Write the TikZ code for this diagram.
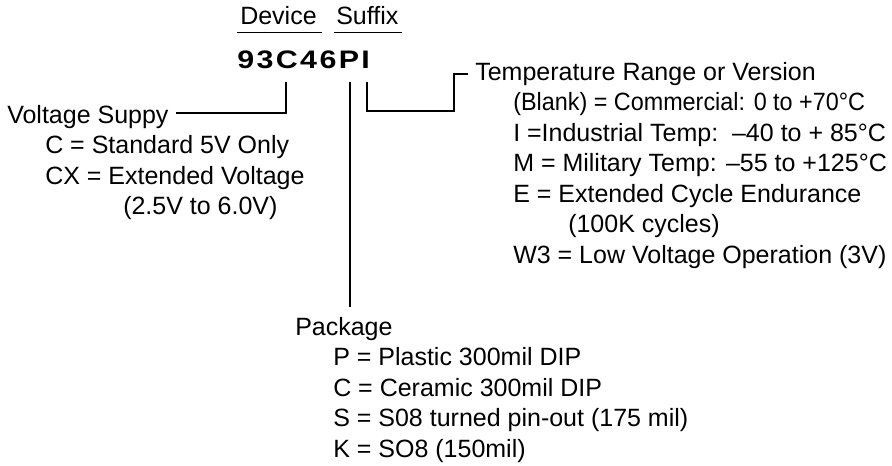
\documentclass[tikz,border=0pt]{standalone}
\usepackage{fontspec}
\setmainfont{Liberation Sans}
\usetikzlibrary{calc}
\newcommand\lsp{\kern1.5pt}
\begin{document}
\begin{tikzpicture}[x=0.75pt,y=-0.75pt,
  txt/.style={anchor=base west,inner sep=0pt,font=\fontsize{18.75}{22}\selectfont},
  pnum/.style={anchor=base west,inner sep=0pt,font=\fontsize{19}{22}\bfseries\selectfont},
  conn/.style={line width=1.6pt,line join=miter},
  uline/.style={line width=1.3pt}]
\useasboundingbox (0,0) rectangle (892,465);
% header
\node[txt] (dev) at (240,24) {Device};
\node[txt] (suf) at (336,24) {Suffix};
\draw[uline] ($(dev.base west)+(-3,8.5)$) -- ($(dev.base east)+(5,8.5)$);
\draw[uline] ($(suf.base west)+(-2,8.5)$) -- ($(suf.base east)+(3,8.5)$);
\node[pnum] (pn) at (237,68) {\scalebox{1.2}[1]{9\lsp3\lsp C\lsp4\lsp6\lsp P\lsp I}};
% connector start points below the letters
\coordinate (cv) at (286,82);
\coordinate (cp) at (350,82);
\coordinate (ct) at (367,82);
% voltage
\node[txt] (volt) at (7,123) {Voltage Suppy};
\node[txt] (v1) at (45,153.5) {C = Standard 5V Only};
\node[txt] (v2) at (45,184) {CX = Extended Voltage};
\node[txt] (v3) at (123,214.5) {(2.5V to 6.0V)};
% temperature
\node[txt] (temp) at (475,80) {Temperature Range or Version};
\node[txt] (t1) at (513,110.5) {\scalebox{0.935}[1]{(Blank) = Commercial: 0 to +70°C}};
\node[txt] (t2) at (513,141) {I =Industrial Temp:\ \ –40 to + 85°C};
\node[txt] (t3) at (513,171.5) {M = Military Temp: –55 to +125°C};
\node[txt] (t4) at (513,202) {E = Extended Cycle Endurance};
\node[txt] (t5) at (568,232.5) {(100K cycles)};
\node[txt] (t6) at (513,263) {W3 = Low Voltage Operation (3V)};
% package
\node[txt] (pkg) at (295,335) {Package};
\node[txt] (p1) at (333,365.5) {P = Plastic 300mil DIP};
\node[txt] (p2) at (333,396) {C = Ceramic 300mil DIP};
\node[txt] (p3) at (333,426.5) {S = S08 turned pin-out (175 mil)};
\node[txt] (p4) at (333,457) {K = SO8 (150mil)};
% connectors
\draw[conn] (cv) |- ($(volt.base east)+(7,-10)$);
\draw[conn] (cp) -- ($(cp |- pkg.north)+(0,-10)$);
\draw[conn] (ct) -- (367,111) -- (454,111) -- (454,74) -- ($(temp.base west)+(-7,-6)$);
\end{tikzpicture}
\end{document}
